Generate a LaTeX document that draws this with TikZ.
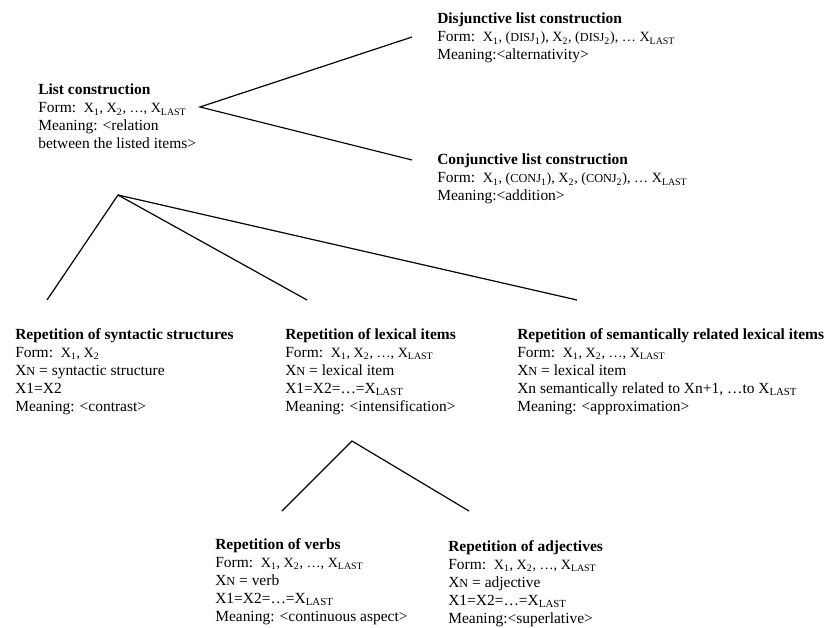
\documentclass[tikz,border=0pt]{standalone}
\usepackage{fontspec}
\setmainfont{Liberation Serif}
\newcommand{\fm}[1]{{\fontsize{10.6}{13.5}\selectfont #1}}
\newcommand{\smc}[1]{{\fontsize{9.2}{13.5}\selectfont #1}}
\newcommand{\xlast}{X\textsubscript{LAST}}
\newcommand{\xn}{X\smc{N}}
\begin{document}
\begin{tikzpicture}[x=0.75pt,y=-0.75pt,
		block/.style={anchor=north west, align=left, inner sep=0pt, font=\fontsize{11.6}{13.5}\selectfont},
		branch/.style={line width=0.9pt}]
			\useasboundingbox (0,0) rectangle (830,627);

			% constructions
			\node[block] (list) at (38,84) {\textbf{List construction}\\ Form:\ \ \fm{X\textsubscript{1}, X\textsubscript{2}, …, \xlast}\\ Meaning: <relation\\ between the listed items>};
			\node[block] (disj) at (437,13) {\textbf{Disjunctive list construction}\\ Form:\ \ \fm{X\textsubscript{1}, (\smc{DISJ}\textsubscript{1}), X\textsubscript{2}, (\smc{DISJ}\textsubscript{2}), … \xlast}\\ Meaning:<alternativity>};
			\node[block] (conj) at (437,154) {\textbf{Conjunctive list construction}\\ Form:\ \ \fm{X\textsubscript{1}, (\smc{CONJ}\textsubscript{1}), X\textsubscript{2}, (\smc{CONJ}\textsubscript{2}), … \xlast}\\ Meaning:<addition>};

			% repetitions
			\node[block] (syn) at (15,328) {\textbf{Repetition of syntactic structures}\\ Form:\ \ \fm{X\textsubscript{1}, X\textsubscript{2}}\\ \xn{} = syntactic structure\\ X1=X2\\ Meaning: <contrast>};
			\node[block] (lex) at (285,328) {\textbf{Repetition of lexical items}\\ Form:\ \ \fm{X\textsubscript{1}, X\textsubscript{2}, …, \xlast}\\ \xn{} = lexical item\\ X1=X2=…=\xlast\\ Meaning: <intensification>};
			\node[block] (sem) at (517,328) {\textbf{Repetition of semantically related lexical items}\\ Form:\ \ \fm{X\textsubscript{1}, X\textsubscript{2}, …, \xlast}\\ \xn{} = lexical item\\ Xn semantically related to Xn+1, …to \xlast\\ Meaning: <approximation>};
			\node[block] (verb) at (215,538) {\textbf{Repetition of verbs}\\ Form:\ \ \fm{X\textsubscript{1}, X\textsubscript{2}, …, \xlast}\\ \xn{} = verb\\ X1=X2=…=\xlast\\ Meaning: <continuous aspect>};
			\node[block] (adj) at (448,540) {\textbf{Repetition of adjectives}\\ Form:\ \ \fm{X\textsubscript{1}, X\textsubscript{2}, …, \xlast}\\ \xn{} = adjective\\ X1=X2=…=\xlast\\ Meaning:<superlative>};

			% branch points
			\coordinate (list-v) at (200,107);
			\coordinate (disj-e) at (412,37);
			\coordinate (conj-e) at (412,160);
			\coordinate (rep-v) at (118,195);
			\coordinate (syn-e) at (47,300);
			\coordinate (lex-e) at (307,300);
			\coordinate (sem-e) at (577,300);
			\coordinate (lex-v) at (352,441);
			\coordinate (verb-e) at (282,511);
			\coordinate (adj-e) at (469,511);

			% branches
			\draw[branch] (disj-e) -- (list-v) -- (conj-e);
			\draw[branch] (syn-e) -- (rep-v) -- (lex-e);
			\draw[branch] (rep-v) -- (sem-e);
			\draw[branch] (verb-e) -- (lex-v) -- (adj-e);
		\end{tikzpicture}
\end{document}
